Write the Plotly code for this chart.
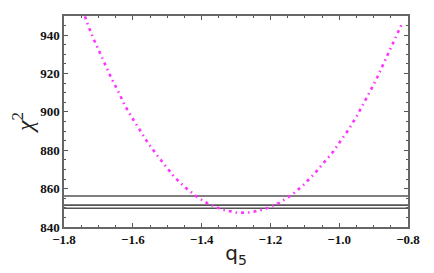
import plotly.graph_objects as go

q5 = [-1.739, -1.731, -1.715, -1.697, -1.679, -1.662, -1.642, -1.625, -1.603, -1.581,
      -1.558, -1.533, -1.506, -1.479, -1.448, -1.414, -1.381, -1.340, -1.296, -1.259,
      -1.216, -1.174, -1.138, -1.104, -1.075, -1.046, -1.020, -0.996, -0.971, -0.949,
      -0.928, -0.908, -0.889, -0.872, -0.852, -0.836, -0.818]
chi2 = [949.8, 945.5, 938.5, 931.3, 924.4, 917.4, 910.6, 904.0, 897.2, 890.6,
        884.4, 878.2, 871.9, 866.0, 860.7, 855.8, 852.1, 849.1, 847.4, 847.6,
        849.3, 852.6, 856.7, 861.9, 867.2, 873.0, 878.7, 884.9, 891.3, 897.8,
        904.5, 911.5, 918.2, 924.9, 932.1, 939.0, 945.8]
levels = [856.2, 851.4, 849.8]
x_range = [-1.8, -0.8]
y_range = [840, 950]

fig = go.Figure()
for lv in levels:
    fig.add_trace(go.Scatter(x=x_range, y=[lv, lv], mode="lines",
                             line=dict(color="#555555", width=1.6),
                             showlegend=False, hoverinfo="skip"))
fig.add_trace(go.Scatter(x=q5, y=chi2, mode="lines",
                         line=dict(color="#ff33ff", width=2.6, dash="3px,4px,1.5px,4px"),
                         showlegend=False))

axis_common = dict(showline=True, linecolor="#666666", linewidth=1.5, mirror="allticks",
                   ticks="inside", ticklen=4, tickwidth=1.2, tickcolor="#555555",
                   showgrid=False, zeroline=False)

fig.update_xaxes(range=x_range, tick0=-1.8, dtick=0.2, tickformat=".1f",
                 minor=dict(dtick=0.05, ticks="inside", ticklen=2, tickcolor="#555555"),
                 title=dict(text="q<sub>5</sub>", font=dict(family="DejaVu Sans",
                            size=20, color="#222222"), standoff=0),
                 **axis_common)
fig.update_yaxes(range=y_range, tick0=840, dtick=20,
                 minor=dict(dtick=5, ticks="inside", ticklen=2, tickcolor="#555555"),
                 title=dict(text="<i>χ</i><sup>2</sup>", font=dict(family="Liberation Serif",
                            size=24, color="#222222"), standoff=0),
                 **axis_common)
fig.update_xaxes(tickfont=dict(family="Liberation Serif", size=13, color="#111111", weight=700))
fig.update_yaxes(tickfont=dict(family="Liberation Serif", size=13, color="#111111", weight=700))

fig.update_layout(width=426, height=265, margin=dict(l=56, r=26, t=6, b=46),
                  font=dict(family="Liberation Serif"),
                  plot_bgcolor="white", paper_bgcolor="white")
fig.write_html("out.html")
